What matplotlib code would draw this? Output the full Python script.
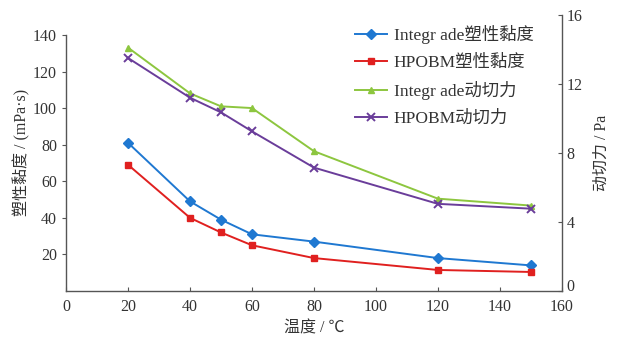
import matplotlib.pyplot as plt
import matplotlib.transforms as mtransforms

plt.rcParams['font.family'] = ['Liberation Serif', 'Noto Sans CJK SC']
plt.rcParams['axes.unicode_minus'] = False

temp = [20, 40, 50, 60, 80, 120, 150]
pv_integrade = [81, 49, 39, 31, 27, 18, 14]
pv_hpobm = [69, 40, 32, 25, 18, 11.5, 10.4]
yp_integrade = [14.1, 11.45, 10.7, 10.6, 8.1, 5.35, 4.95]
yp_hpobm = [13.5, 11.2, 10.35, 9.25, 7.15, 5.05, 4.77]

labels = ['Integr ade塑性黏度', 'HPOBM塑性黏度', 'Integr ade动切力', 'HPOBM动切力']
colors = ['#1f78d1', '#e0201f', '#8dc63f', '#6a3d9a']
txt = '#333333'
spine_c = '#555555'

fig = plt.figure(figsize=(6.18, 3.46), dpi=100)
ax = fig.add_axes([0.107, 0.159, 0.802, 0.798])
ax2 = ax.twinx()

l1, = ax.plot(temp, pv_integrade, color=colors[0], marker='D', ms=5, lw=1.4, label=labels[0])
l2, = ax.plot(temp, pv_hpobm, color=colors[1], marker='s', ms=5, lw=1.4, label=labels[1])
l3, = ax2.plot(temp, yp_integrade, color=colors[2], marker='^', ms=5, lw=1.4, label=labels[2])
l4, = ax2.plot(temp, yp_hpobm, color=colors[3], marker='x', ms=6, mew=1.4, lw=1.4, label=labels[3])

ax.set_xlim(0, 160)
ax.set_ylim(0, 151)
ax2.set_ylim(0, 16)
ax.set_xticks(range(0, 161, 20))
ax.set_yticks(range(20, 141, 20))
ax2.set_yticks([0, 4, 8, 12, 16])

for a in (ax, ax2):
    a.spines['top'].set_visible(False)
    for s in a.spines.values():
        s.set_color(spine_c)
        s.set_linewidth(1.0)
ax.spines['right'].set_visible(False)
ax.spines['left'].set_bounds(0, 140)
ax2.spines['left'].set_visible(False)
ax2.spines['bottom'].set_visible(False)

ax.tick_params(axis='x', direction='in', length=3, color=spine_c, labelsize=11.5, labelcolor=txt, pad=6)
ax.tick_params(axis='y', direction='out', length=3, color=spine_c, labelsize=11.5, labelcolor=txt)
ax2.tick_params(axis='y', direction='in', length=3, color=spine_c, labelsize=11.5, labelcolor=txt)

# nudge the right-axis "0" up so it clears the "160" below it
zero_lbl = ax2.get_yticklabels()[0]
zero_lbl.set_transform(zero_lbl.get_transform()
                       + mtransforms.ScaledTranslation(0, 4 / 72, fig.dpi_scale_trans))

ax.set_xlabel('温度 / ℃', fontsize=11.5, color=txt, labelpad=4)
ax.set_ylabel('塑性黏度 / (mPa·s)', fontsize=11.5, color=txt, labelpad=2)
ax2.set_ylabel('动切力 / Pa', fontsize=11.5, color=txt, labelpad=8)

leg = ax.legend(handles=[l1, l2, l3, l4], loc='upper left', bbox_to_anchor=(0.5625, 1.0),
                frameon=False, fontsize=12.5, labelspacing=0.6, handlelength=1.8,
                handletextpad=0.4, borderaxespad=0.2)
for t in leg.get_texts():
    t.set_color(txt)

fig.savefig('out.png', dpi=100)
